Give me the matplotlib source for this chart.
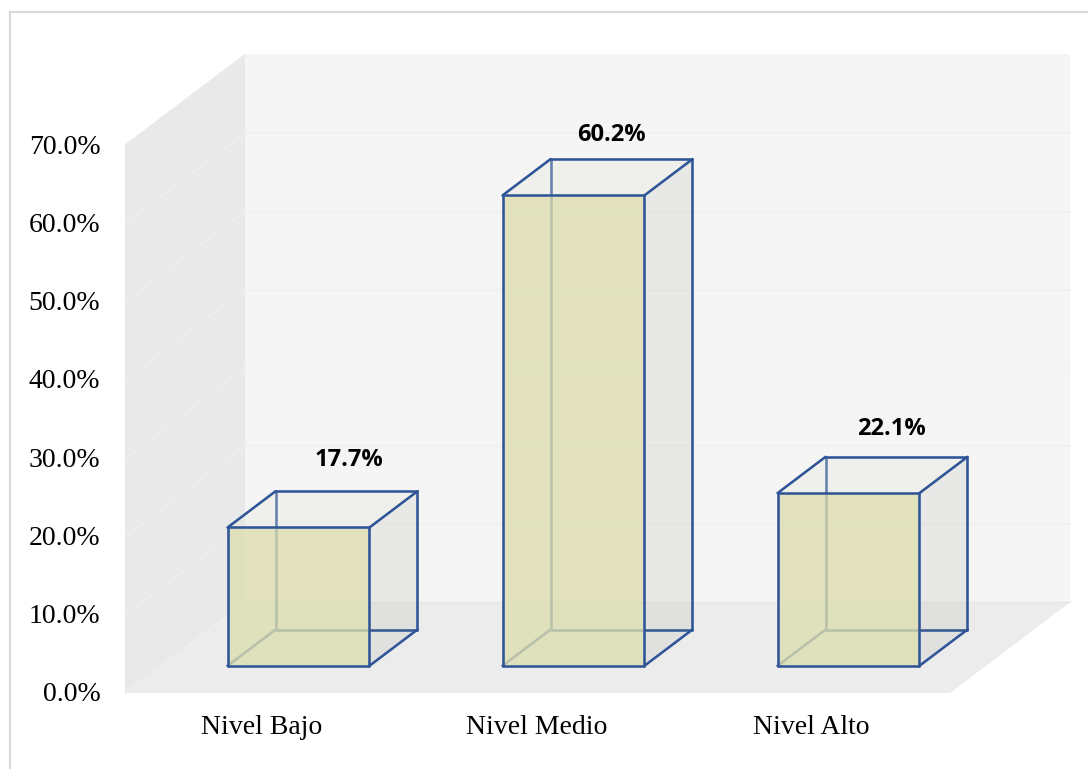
import matplotlib
matplotlib.use('Agg')
import matplotlib.pyplot as plt
from matplotlib.patches import Polygon
from matplotlib.lines import Line2D
from matplotlib.transforms import ScaledTranslation

categories = ['Nivel Bajo', 'Nivel Medio', 'Nivel Alto']
values = [17.7, 60.2, 22.1]
y_ticks = [0, 10, 20, 30, 40, 50, 60, 70]

# oblique depth of the 3D box, in data units per unit of depth
DEPTH_X = 120 / 275
DEPTH_Y = 11.6
BAR_WIDTH = 0.516
BAR_D0 = 0.30
BAR_D1 = 0.70
WALL_TOP = 70.2
BLUE = '#2f5597'

W, H = 1088, 769
plt.rcParams['font.family'] = ['Liberation Serif', 'DejaVu Serif']

fig = plt.figure(figsize=(W / 100, H / 100), dpi=100)
ax = fig.add_axes([125 / W, 1 - 693 / H, 825 / W, 547 / H])
ax.set_xlim(-0.5, 2.5)
ax.set_ylim(0, 70)
ax.patch.set_visible(False)
for s in ax.spines.values():
    s.set_visible(False)


def pt(x, y, d=0.0):
    return (x + d * DEPTH_X, y + d * DEPTH_Y)


def face(points, **kw):
    ax.add_patch(Polygon(points, closed=True, clip_on=False, lw=0, **kw))


def edge(a, b, color=BLUE, lw=1.85, z=5):
    ax.add_line(Line2D([a[0], b[0]], [a[1], b[1]], color=color, lw=lw,
                       clip_on=False, zorder=z, solid_capstyle='round'))


# walls and floor
x0, x1 = ax.get_xlim()
face([pt(x0, 0), pt(x0, WALL_TOP), pt(x0, WALL_TOP, 1), pt(x0, 0, 1)], fc='#e9e9e9', zorder=1)
face([pt(x0, 0, 1), pt(x0, WALL_TOP, 1), pt(x1, WALL_TOP, 1), pt(x1, 0, 1)], fc='#f5f5f5', zorder=1)
face([pt(x0, 0), pt(x1, 0), pt(x1, 0, 1), pt(x0, 0, 1)], fc='#ececec', zorder=1)

for t in y_ticks:
    if t == 70:
        continue
    edge(pt(x0, t), pt(x0, t, 1), color='#eeeeee', lw=1.2, z=2)
    if t > 0:
        edge(pt(x0, t, 1), pt(x1, t, 1), color='#f1f1f1', lw=1.4, z=2)
    else:
        edge(pt(x0, t, 1), pt(x1, t, 1), color='#e6e6e6', lw=1.0, z=2)

# wireframe bars
label_dx = [2, -10, -5]
label_dy = [31, 24, 28]
for i, v in enumerate(values):
    l = i - BAR_WIDTH / 2
    r = i + BAR_WIDTH / 2
    a, b = BAR_D0, BAR_D1
    # hidden edges first, they show through the front pane
    edge(pt(l, 0, b), pt(r, 0, b), z=3)
    edge(pt(l, 0, b), pt(l, v, b), z=3)
    edge(pt(l, 0, a), pt(l, 0, b), z=3)
    # side and top panes
    face([pt(r, 0, a), pt(r, v, a), pt(r, v, b), pt(r, 0, b)], fc='#7f7f70', alpha=0.11, zorder=3)
    face([pt(l, v, a), pt(r, v, a), pt(r, v, b), pt(l, v, b)], fc='#e4e6d8', alpha=0.3, zorder=3)
    face([pt(l, 0, a), pt(r, 0, a), pt(r, v, a), pt(l, v, a)], fc='#dcddb0', alpha=0.8, zorder=4)
    # visible edges
    edge(pt(l, 0, a), pt(r, 0, a))
    edge(pt(l, v, a), pt(r, v, a))
    edge(pt(l, 0, a), pt(l, v, a))
    edge(pt(r, 0, a), pt(r, v, a))
    edge(pt(l, v, b), pt(r, v, b))
    edge(pt(l, v, a), pt(l, v, b))
    edge(pt(r, v, a), pt(r, v, b))
    edge(pt(r, 0, a), pt(r, 0, b))
    edge(pt(r, 0, b), pt(r, v, b))
    ax.annotate(f'{v:.1f}%', pt(i, v, b), xytext=(label_dx[i] * 0.72, label_dy[i] * 0.72),
                textcoords='offset points', ha='center', va='center',
                fontsize=17, fontweight='bold', family=['Open Sans', 'DejaVu Sans'],
                color='black', annotation_clip=False, zorder=6)

ax.set_xticks(range(len(categories)))
ax.set_xticklabels(categories, fontsize=20, color='black')
ax.set_yticks(y_ticks)
ax.set_yticklabels([f'{t:.1f}%' for t in y_ticks], fontsize=20, color='black')
ax.tick_params(axis='both', length=0)
ax.tick_params(axis='x', pad=16)
ax.tick_params(axis='y', pad=17)

# nudge the value axis labels up and left a little
nudge = ScaledTranslation(-1 / 100, 1.5 / 100, fig.dpi_scale_trans)
for lab in ax.get_yticklabels() + ax.get_xticklabels():
    lab.set_transform(lab.get_transform() + ScaledTranslation(-1 / 100, 0, fig.dpi_scale_trans))
for lab in ax.get_yticklabels():
    lab.set_transform(lab.get_transform() + ScaledTranslation(0, 1.5 / 100, fig.dpi_scale_trans))

# outer frame of the chart area
frame = '#d9d9d9'
fig.add_artist(Line2D([10 / W, 10 / W], [0, 1 - 12 / H], color=frame, lw=1.5))
fig.add_artist(Line2D([10 / W, 1], [1 - 12 / H, 1 - 12 / H], color=frame, lw=1.5))

fig.savefig('out.png', dpi=100)
